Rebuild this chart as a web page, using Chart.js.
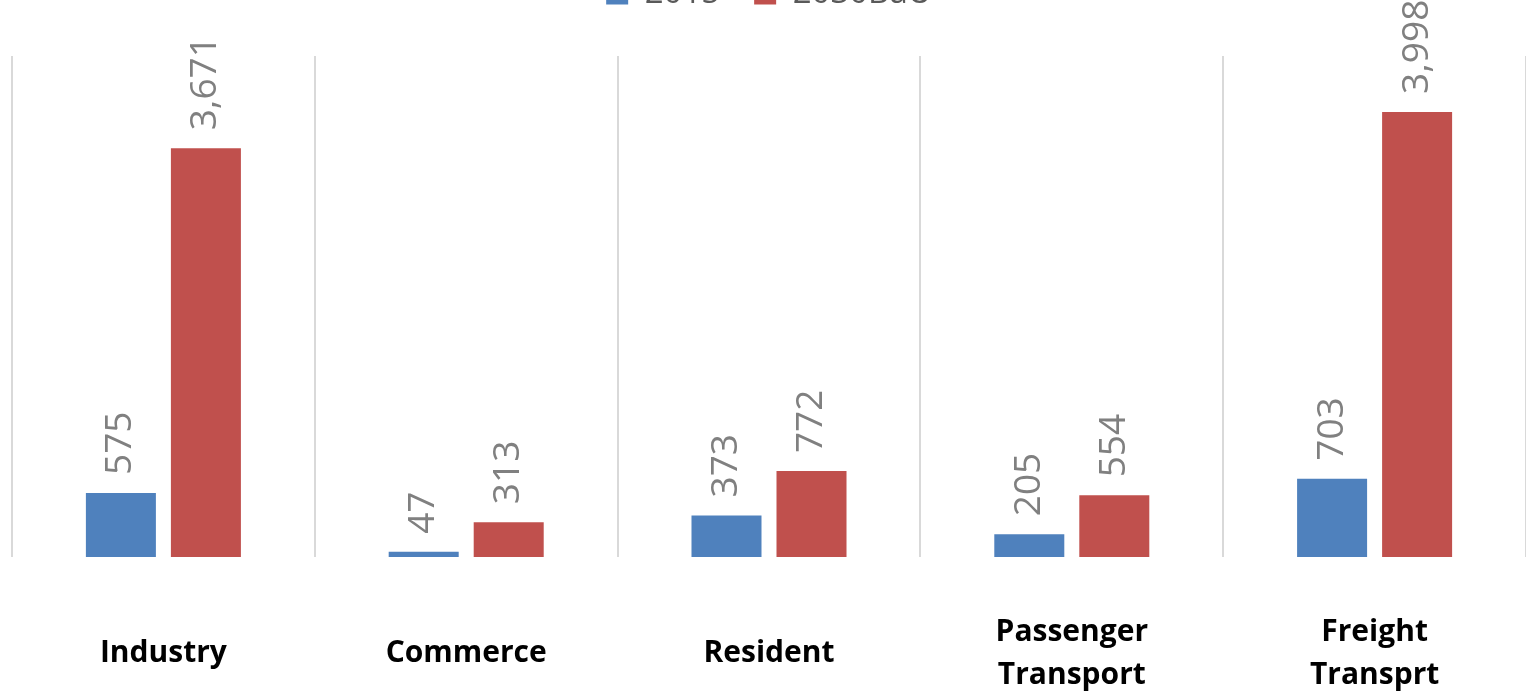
<!DOCTYPE html>
<html>
<head>
<meta charset="utf-8">
<script src="https://cdn.jsdelivr.net/npm/chart.js@4/dist/chart.umd.min.js"></script>
<style>
  html, body { margin: 0; padding: 0; background: #ffffff; }
  #wrap { position: relative; width: 1526px; height: 696px; overflow: hidden; }
  #box { position: absolute; left: 0; top: -57px; width: 1526px; height: 853px; }
</style>
</head>
<body>
<div id="wrap"><div id="box"><canvas id="c"></canvas></div></div>
<script>
const categories = [["Industry"], ["Commerce"], ["Resident"], ["Passenger", "Transport"], ["Freight", "Transprt"]];
const seriesNames = ["2015", "2030BaU"];
const values2015 = [575, 47, 373, 205, 703];
const values2030BaU = [3671, 313, 772, 554, 3998];
const yMin = 0;
const yMax = 4500;

const valueLabels = {
  id: 'valueLabels',
  afterDatasetsDraw(chart) {
    const ctx = chart.ctx;
    ctx.save();
    ctx.fillStyle = '#808080';
    ctx.font = '37px "Open Sans"';
    ctx.textAlign = 'left';
    ctx.textBaseline = 'middle';
    chart.data.datasets.forEach((ds, di) => {
      const meta = chart.getDatasetMeta(di);
      meta.data.forEach((bar, i) => {
        const txt = ds.data[i].toLocaleString('en-US');
        ctx.save();
        ctx.translate(bar.x, bar.y - 18);
        ctx.rotate(-Math.PI / 2);
        ctx.fillText(txt, 0, 0);
        ctx.restore();
      });
    });
    ctx.restore();
  }
};

const legendSpace = {
  id: 'legendSpace',
  beforeInit(chart) {
    const origFit = chart.legend.fit;
    chart.legend.fit = function () {
      origFit.bind(chart.legend)();
      this.height += 36;
    };
  }
};

new Chart(document.getElementById('c'), {
  type: 'bar',
  data: {
    labels: categories,
    datasets: [
      { label: seriesNames[0], data: values2015, backgroundColor: '#4f81bd', categoryPercentage: 0.5615, barPercentage: 0.8235 },
      { label: seriesNames[1], data: values2030BaU, backgroundColor: '#c0504d', categoryPercentage: 0.5615, barPercentage: 0.8235 }
    ]
  },
  options: {
    responsive: true,
    maintainAspectRatio: false,
    animation: false,
    layout: { padding: { left: 12, right: 0, top: 0, bottom: 3 } },
    plugins: {
      legend: {
        position: 'top',
        labels: {
          boxWidth: 22,
          boxHeight: 22,
          padding: 34,
          color: '#595959',
          font: { family: '"Open Sans"', size: 33 }
        }
      },
      tooltip: { enabled: false }
    },
    scales: {
      x: {
        grid: { display: true, color: '#d9d9d9', lineWidth: 2, drawTicks: false, offset: true },
        border: { display: false },
        ticks: {
          color: '#000000',
          padding: 75,
          crossAlign: 'center',
          maxRotation: 0,
          autoSkip: false,
          font: { family: '"Open Sans"', size: 30, weight: 'bold', lineHeight: 1.433 }
        }
      },
      y: {
        display: false,
        min: yMin,
        max: yMax
      }
    }
  },
  plugins: [valueLabels, legendSpace]
});
</script>
</body>
</html>
